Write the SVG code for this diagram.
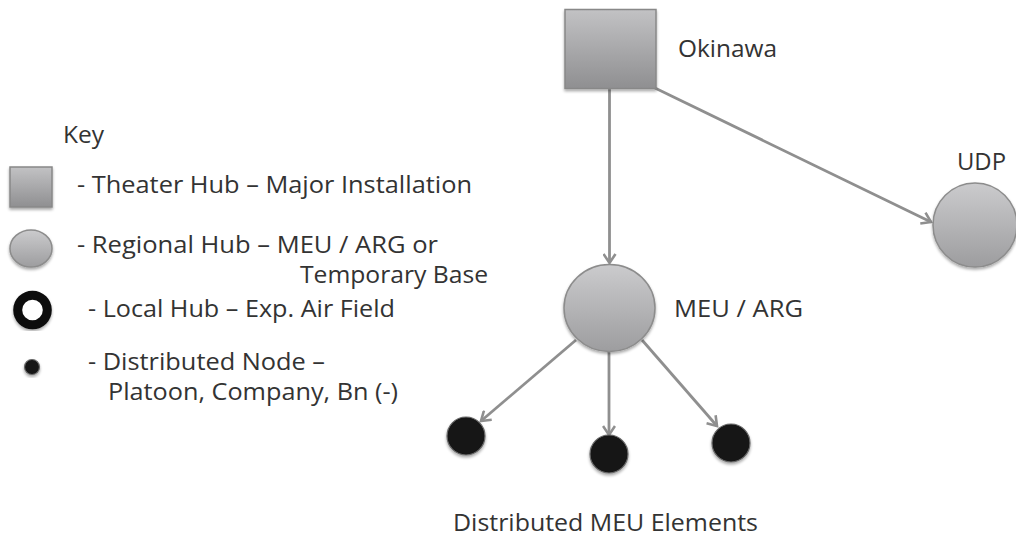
<svg xmlns="http://www.w3.org/2000/svg" width="1016" height="536" viewBox="0 0 1016 536">
<style>
text{font-family:"Open Sans","Liberation Sans",sans-serif;font-size:24.5px;fill:#333;}
.conn{stroke:#8f8f8f;stroke-width:2.8;fill:none;marker-end:url(#arr);}
.hub{fill:url(#gsq);stroke:#888;stroke-width:1.5;}
.reg{fill:url(#gci);stroke:#8c8c8c;stroke-width:1.5;}
.dot{fill:#151515;stroke:#6a6a6a;stroke-width:1.2;}
</style>
<defs>
<linearGradient id="gsq" x1="0" y1="0" x2="0" y2="1">
<stop offset="0" stop-color="#c2c2c4"/><stop offset="1" stop-color="#8f8f91"/>
</linearGradient>
<linearGradient id="gci" x1="0" y1="0" x2="0" y2="1">
<stop offset="0" stop-color="#cbcbcd"/><stop offset="1" stop-color="#9d9d9f"/>
</linearGradient>
<filter id="sh" x="-20%" y="-20%" width="140%" height="140%">
<feGaussianBlur in="SourceAlpha" stdDeviation="1.5"/>
<feOffset dx="0" dy="1.5" result="b"/>
<feComponentTransfer><feFuncA type="linear" slope="0.35"/></feComponentTransfer>
<feMerge><feMergeNode/><feMergeNode in="SourceGraphic"/></feMerge>
</filter>
<marker id="arr" markerUnits="userSpaceOnUse" markerWidth="14" markerHeight="14" refX="11" refY="7" orient="auto">
<path d="M2,1 L11,7 L2,13" fill="none" stroke="#8f8f8f" stroke-width="2.6"/>
</marker>
</defs>

<g id="legend">
<text x="63" y="143">Key</text>
<rect x="10" y="167" width="42" height="40" class="hub" filter="url(#sh)"/>
<text x="77" y="193" textLength="395" lengthAdjust="spacingAndGlyphs">- Theater Hub – Major Installation</text>
<ellipse cx="31" cy="248.5" rx="21" ry="18.5" class="reg" filter="url(#sh)"/>
<text x="77" y="253" textLength="361" lengthAdjust="spacingAndGlyphs">- Regional Hub – MEU / ARG or</text>
<text x="300" y="283" textLength="188" lengthAdjust="spacingAndGlyphs">Temporary Base</text>
<circle cx="32.5" cy="310" r="14.8" fill="#fff" stroke="#111" stroke-width="9" filter="url(#sh)"/>
<text x="88" y="317" textLength="307" lengthAdjust="spacingAndGlyphs">- Local Hub – Exp. Air Field</text>
<circle cx="32" cy="367" r="7.5" class="dot" filter="url(#sh)"/>
<text x="88" y="370" textLength="237" lengthAdjust="spacingAndGlyphs">- Distributed Node –</text>
<text x="108" y="400" textLength="290" lengthAdjust="spacingAndGlyphs">Platoon, Company, Bn (-)</text>
</g>

<g id="connectors">
<line class="conn" x1="609.5" y1="89" x2="609.5" y2="263"/>
<line class="conn" x1="655" y1="88" x2="931" y2="222"/>
<line class="conn" x1="576" y1="340" x2="481" y2="421"/>
<line class="conn" x1="609" y1="352" x2="609" y2="435"/>
<line class="conn" x1="642" y1="340" x2="717" y2="426"/>
</g>

<g id="okinawa">
<rect x="565" y="9.5" width="91" height="79" class="hub" filter="url(#sh)"/>
<text x="678" y="57" textLength="99" lengthAdjust="spacingAndGlyphs">Okinawa</text>
</g>

<g id="udp">
<circle cx="975" cy="225" r="42" class="reg" filter="url(#sh)"/>
<text x="957" y="170" textLength="49" lengthAdjust="spacingAndGlyphs">UDP</text>
</g>

<g id="meu">
<ellipse cx="609.5" cy="308" rx="45.5" ry="43.5" class="reg" filter="url(#sh)"/>
<text x="674" y="317" textLength="129" lengthAdjust="spacingAndGlyphs">MEU / ARG</text>
</g>

<g id="element1"><circle cx="466" cy="436" r="19" class="dot" filter="url(#sh)"/></g>
<g id="element2"><circle cx="609" cy="454" r="19" class="dot" filter="url(#sh)"/></g>
<g id="element3"><circle cx="731" cy="443" r="19" class="dot" filter="url(#sh)"/></g>

<g id="label-elements">
<text x="453" y="531" textLength="305" lengthAdjust="spacingAndGlyphs">Distributed MEU Elements</text>
</g>
</svg>
